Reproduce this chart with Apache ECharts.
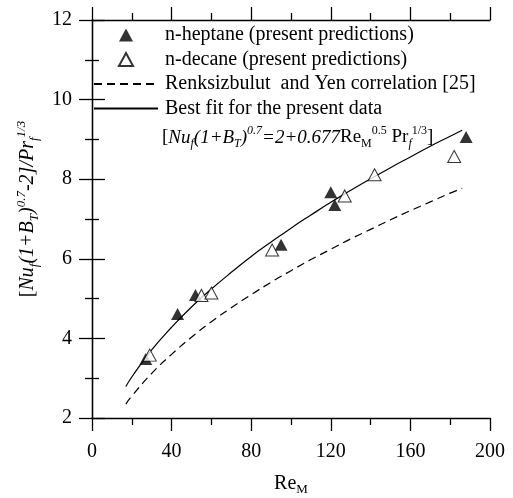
<!DOCTYPE html>
<html>
<head>
<meta charset="utf-8">
<script src="https://cdn.jsdelivr.net/npm/echarts@6/dist/echarts.min.js"></script>
<style>
  html, body { margin: 0; padding: 0; background: #fff; }
  #chart { width: 513px; height: 498px; }
</style>
</head>
<body>
<div id="chart"></div>
<script>
// Droplet Nusselt correlation vs. Reynolds number
const heptaneRe = [27, 43, 52, 95, 120, 122, 188];
const heptaneY = [3.48, 4.61, 5.09, 6.35, 7.67, 7.35, 9.06];

const decaneRe = [29, 55, 60, 90.5, 127, 142, 182];
const decaneY = [3.58, 5.08, 5.14, 6.22, 7.58, 8.11, 8.57];

// Renksizbulut & Yen correlation curve
const ryRe = [17, 20, 30, 40, 50, 60, 70, 80, 90, 100, 110, 120, 130, 140, 150, 160, 170, 180, 186];
const ryY = [2.35, 2.55, 3.12, 3.60, 4.03, 4.42, 4.77, 5.10, 5.41, 5.70, 5.98, 6.24, 6.50, 6.74, 6.98, 7.21, 7.43, 7.65, 7.77];

// Best fit curve of the present data
const fitRe = [17, 20, 30, 40, 50, 60, 70, 80, 90, 100, 110, 120, 130, 140, 150, 160, 170, 180, 186];
const fitY = [2.79, 3.03, 3.71, 4.28, 4.79, 5.24, 5.66, 6.06, 6.42, 6.77, 7.10, 7.42, 7.72, 8.01, 8.29, 8.56, 8.83, 9.08, 9.23];

const xTicks = { min: 0, max: 200, interval: 40 };
const yTicks = { min: 2, max: 12, interval: 2 };

const names = [
  'n-heptane (present predictions)',
  'n-decane (present predictions)',
  'Renksizbulut  and Yen correlation [25]',
  'Best fit for the present data'
];

const FONT = 'Liberation Serif';
const TRIANGLE = 'path://M0,-6L6.5,6L-6.5,6Z';
const zip = (xs, ys) => xs.map((x, i) => [x, ys[i]]);

const axisLine = { show: true, lineStyle: { color: '#000', width: 1.3 } };
const majorTick = { show: true, inside: false, length: 13, lineStyle: { color: '#000', width: 1.3 } };
const minorTick = { show: true, splitNumber: 2, length: 7, lineStyle: { color: '#000', width: 1.3 } };

// rich text styles for sub/superscripts
function richSet(main, small, lh) {
  const base = { fontFamily: FONT, fontWeight: 'normal', color: '#000' };
  return {
    r: { ...base, fontSize: main, lineHeight: lh },
    i: { ...base, fontSize: main, fontStyle: 'italic', lineHeight: lh },
    rsub: { ...base, fontSize: small, lineHeight: small, verticalAlign: 'bottom' },
    isub: { ...base, fontSize: small, fontStyle: 'italic', lineHeight: small, verticalAlign: 'bottom' },
    rsup: { ...base, fontSize: small, lineHeight: small, verticalAlign: 'top' },
    isup: { ...base, fontSize: small, fontStyle: 'italic', lineHeight: small, verticalAlign: 'top' }
  };
}

const chart = echarts.init(document.getElementById('chart'), null, { renderer: 'canvas' });

chart.setOption({
  animation: false,
  backgroundColor: '#fff',
  textStyle: { fontFamily: FONT, color: '#000' },
  grid: { left: 92, right: 23, top: 20, bottom: 80, containLabel: false, outerBoundsMode: 'none' },
  title: {
    left: 157,
    top: 120,
    text: '{r|[}{i|Nu}{isub|f}{i|(1+B}{isub|T}{i|)}{isup|0.7}{i|=2+0.677}{r|Re}{rsub|M}{rsup|0.5}{r| Pr}{isub|f}{rsup|1/3}{r|]}',
    textStyle: { fontWeight: 'normal', rich: richSet(19, 12, 25) }
  },
  legend: {
    orient: 'vertical',
    left: 93,
    top: 25,
    itemWidth: 64,
    itemHeight: 13,
    itemGap: 4.5,
    padding: 0,
    selectedMode: false,
    symbolKeepAspect: true,
    data: [
      { name: names[0], icon: TRIANGLE },
      { name: names[1], icon: TRIANGLE },
      { name: names[2], itemStyle: { opacity: 0 } },
      { name: names[3], itemStyle: { opacity: 0 } }
    ],
    textStyle: { fontFamily: FONT, fontSize: 20, color: '#000', lineHeight: 20, padding: [0, 0, 0, 2] }
  },
  xAxis: [
    {
      type: 'value', position: 'bottom',
      min: xTicks.min, max: xTicks.max, interval: xTicks.interval,
      axisLine, axisTick: majorTick, minorTick,
      splitLine: { show: false }, minorSplitLine: { show: false },
      axisLabel: { fontFamily: FONT, fontSize: 20, color: '#000', margin: 24 },
      name: '{a|Re}{s|M}',
      nameLocation: 'middle',
      nameGap: 54,
      nameTextStyle: {
        rich: {
          a: { fontFamily: FONT, fontSize: 20, lineHeight: 24, color: '#000' },
          s: { fontFamily: FONT, fontSize: 13, lineHeight: 13, verticalAlign: 'bottom', color: '#000' }
        }
      }
    },
    {
      type: 'value', position: 'top',
      min: xTicks.min, max: xTicks.max, interval: xTicks.interval,
      axisLine, axisTick: majorTick, minorTick,
      splitLine: { show: false },
      axisLabel: { show: false }
    }
  ],
  yAxis: [
    {
      type: 'value', position: 'left',
      min: yTicks.min, max: yTicks.max, interval: yTicks.interval,
      axisLine, axisTick: majorTick, minorTick,
      splitLine: { show: false }, minorSplitLine: { show: false },
      axisLabel: { fontFamily: FONT, fontSize: 20, color: '#000', margin: 20 },
      name: '{r|[}{i|Nu}{isub|f}{i|(1+B}{isub|T}{i|)}{isup|0.7}{i|-2]/Pr}{isub|f}{isup|1/3}',
      nameLocation: 'middle',
      nameRotate: 90,
      nameGap: 50,
      nameTextStyle: { padding: [0, 0, 0, 20], rich: richSet(20, 13, 26) }
    },
    {
      type: 'value', position: 'right',
      min: yTicks.min, max: yTicks.max, interval: yTicks.interval,
      axisLine, axisTick: majorTick, minorTick,
      splitLine: { show: false },
      axisLabel: { show: false }
    }
  ],
  series: [
    {
      name: names[0], type: 'scatter', z: 5,
      symbol: 'triangle', symbolSize: [13, 12],
      itemStyle: { color: '#000' },
      data: zip(heptaneRe, heptaneY)
    },
    {
      name: names[1], type: 'scatter', z: 5,
      symbol: 'triangle', symbolSize: [13, 12],
      itemStyle: { color: '#fff', borderColor: '#000', borderWidth: 1 },
      data: zip(decaneRe, decaneY)
    },
    {
      name: names[2], type: 'line', z: 3,
      symbol: 'none', smooth: true,
      itemStyle: { color: '#000' },
      lineStyle: { color: '#000', width: 1.2, type: [8, 5] },
      data: zip(ryRe, ryY)
    },
    {
      name: names[3], type: 'line', z: 3,
      symbol: 'none', smooth: true,
      itemStyle: { color: '#000' },
      lineStyle: { color: '#000', width: 1.2 },
      data: zip(fitRe, fitY)
    }
  ]
});
</script>
</body>
</html>
